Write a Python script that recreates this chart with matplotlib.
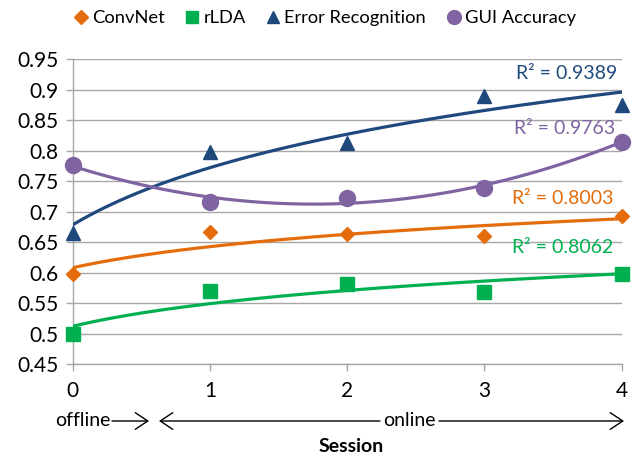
import numpy as np
import matplotlib
matplotlib.use("Agg")
import matplotlib.pyplot as plt
from matplotlib.lines import Line2D
from matplotlib.patches import FancyArrowPatch

plt.rcParams['font.family'] = ['Lato', 'DejaVu Sans']

sessions = [0, 1, 2, 3, 4]
convnet = [0.597, 0.666, 0.663, 0.660, 0.693]
rlda = [0.499, 0.570, 0.582, 0.568, 0.597]
error_rec = [0.665, 0.798, 0.813, 0.889, 0.875]
gui_acc = [0.777, 0.716, 0.723, 0.739, 0.815]
r2_labels = ["R² = 0.8003", "R² = 0.8062", "R² = 0.9389", "R² = 0.9763"]
y_ticks = [0.45, 0.5, 0.55, 0.6, 0.65, 0.7, 0.75, 0.8, 0.85, 0.9, 0.95]
y_tick_labels = ["0.45", "0.5", "0.55", "0.6", "0.65", "0.7", "0.75", "0.8", "0.85", "0.9", "0.95"]
names = ["ConvNet", "rLDA", "Error Recognition", "GUI Accuracy"]

c_conv = "#E46C0A"
c_rlda = "#00B050"
c_err = "#1F497D"
c_gui = "#8064A2"

FS = 14

fig = plt.figure(figsize=(6.35, 4.58), dpi=100)
ax = fig.add_axes([0.1145, 0.2052, 0.979 - 0.1145, 0.8705 - 0.2052])

x = np.array(sessions, dtype=float)
xs = np.linspace(0, 4, 200)

def log_fit(y):
    a, b = np.polyfit(np.log(x + 1), np.array(y), 1)
    return a * np.log(xs + 1) + b

def poly_fit(y):
    p = np.polyfit(x, np.array(y), 2)
    return np.polyval(p, xs)

lw = 2.3
ax.plot(xs, log_fit(convnet), color=c_conv, lw=lw, zorder=3)
ax.plot(xs, log_fit(rlda), color=c_rlda, lw=lw, zorder=3)
ax.plot(xs, log_fit(error_rec), color=c_err, lw=lw, zorder=3)
ax.plot(xs, poly_fit(gui_acc), color=c_gui, lw=lw, zorder=3)

ax.plot(x, convnet, 'D', color=c_conv, ms=7.5, ls='none', zorder=4, clip_on=False)
ax.plot(x, rlda, 's', color=c_rlda, ms=9.5, ls='none', zorder=4, clip_on=False)
ax.plot(x, error_rec, '^', color=c_err, ms=9.5, ls='none', zorder=4, clip_on=False)
ax.plot(x, gui_acc, 'o', color=c_gui, ms=11.5, ls='none', zorder=4, clip_on=False)

ax.set_xlim(0, 4)
ax.set_ylim(0.45, 0.95)
ax.set_yticks(y_ticks)
ax.set_yticklabels(y_tick_labels)
ax.set_xticks(sessions)
ax.set_xticklabels([str(s) for s in sessions])
ax.yaxis.grid(True, color="#A6A6A6", lw=1.0)
ax.set_axisbelow(True)
for s in ['top', 'right']:
    ax.spines[s].set_visible(False)
for s in ['left', 'bottom']:
    ax.spines[s].set_color("#A6A6A6")
    ax.spines[s].set_linewidth(1.0)
ax.tick_params(axis='both', colors="#A6A6A6", length=5, width=1.0, labelsize=15, labelcolor="black")
ax.tick_params(axis='y', pad=5)
ax.tick_params(axis='x', pad=7)

# R² labels
ax.text(3.94, 0.693 + 0.029, r2_labels[0], color=c_conv, fontsize=FS, ha='right', va='center')
ax.text(3.94, 0.597 + 0.0445, r2_labels[1], color=c_rlda, fontsize=FS, ha='right', va='center')
ax.text(3.97, 0.9265, r2_labels[2], color=c_err, fontsize=FS, ha='right', va='center')
ax.text(3.955, 0.836, r2_labels[3], color=c_gui, fontsize=FS, ha='right', va='center')

# Legend
handles = [
    Line2D([], [], marker='D', color=c_conv, ls='none', ms=7),
    Line2D([], [], marker='s', color=c_rlda, ls='none', ms=8.5),
    Line2D([], [], marker='^', color=c_err, ls='none', ms=8.5),
    Line2D([], [], marker='o', color=c_gui, ls='none', ms=10),
]
fig.legend(handles, names, loc='center', bbox_to_anchor=(0.51, 1 - 18 / 458), ncol=4,
           frameon=False, fontsize=13.2, handletextpad=0.1, columnspacing=1.0, handlelength=1.0)

# Bottom annotations
yrow = 1 - 421 / 458
fig.text(55 / 635, yrow, "offline", fontsize=FS, ha='left', va='center')
fig.text(409 / 635, yrow, "online", fontsize=FS, ha='center', va='center')
arrow_kw = dict(arrowstyle='->,head_length=0.45,head_width=0.3', color='black', lw=1.0,
                mutation_scale=20, shrinkA=0, shrinkB=0)
for (x0, x1) in [(112, 149), (380, 159), (439, 624)]:
    fig.patches.append(FancyArrowPatch((x0 / 635, yrow), (x1 / 635, yrow),
                                       transform=fig.transFigure, **arrow_kw))
fig.text(351 / 635, 1 - 446 / 458, "Session", fontsize=FS, fontweight='bold', ha='center', va='center')

fig.savefig("out.png", dpi=100)
